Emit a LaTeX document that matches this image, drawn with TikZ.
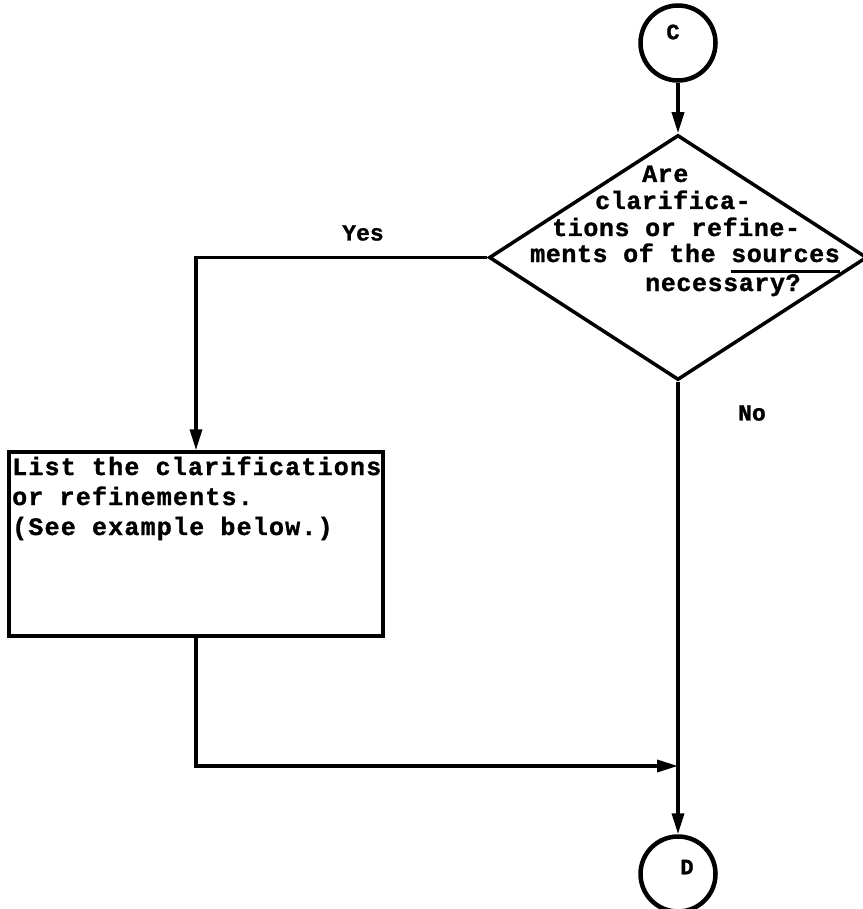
\documentclass[tikz,border=0pt]{standalone}
\usepackage{fontspec}
\usetikzlibrary{shapes.geometric,arrows.meta}
% typewriter faces: heavy, slightly letter-spaced mono
\newfontfamily\twdia[LetterSpace=2.4, BoldFeatures={FakeBold=1.2}]{Liberation Mono}
\newfontfamily\twbox[LetterSpace=4.8, BoldFeatures={FakeBold=1.2}]{Liberation Mono}
\newfontfamily\twlab[BoldFeatures={FakeBold=1.2}]{Liberation Mono}
% heavy typewriter underline
\newcommand\typeul[1]{\setbox0\hbox{#1}\rlap{\rule[-10.5pt]{\wd0}{2.2pt}}\box0}

\begin{document}
\begin{tikzpicture}[x=1pt,y=-1pt,
  connector/.style={draw, circle, line width=4.5pt, minimum size=75pt, inner sep=0pt},
  decision/.style={draw, diamond, line width=3.5pt, minimum width=378pt, minimum height=245pt, inner sep=0pt},
  process/.style={draw, rectangle, line width=3.5pt, minimum width=374pt, minimum height=184pt, inner sep=0pt},
  flow/.style={line width=3.5pt, -{Triangle[length=21pt,width=12pt]}},
  dialine/.style={anchor=base west, inner sep=0pt, font=\twdia\bfseries\fontsize{25pt}{27pt}\selectfont},
  boxline/.style={anchor=base west, inner sep=0pt, font=\twbox\bfseries\fontsize{25pt}{30pt}\selectfont},
  branch/.style={inner sep=0pt, font=\twlab\bfseries\fontsize{23pt}{26pt}\selectfont},
  letter/.style={font=\twlab\bfseries\fontsize{22pt}{24pt}\selectfont}
]
\useasboundingbox (0,0) rectangle (862,909);

% off-page connectors
\node[connector, label={[letter, xshift=-5pt, yshift=11pt]center:C}] (C) at (678,43) {};
\node[connector, label={[letter, xshift=9pt, yshift=7pt]center:D}] (D) at (678,874) {};

% decision
\node[decision] (dec) at (678,257.5) {};
\node[dialine] (q1) at (642,182) {Are};
\node[dialine] (q2) at (595,209) {clarifica-};
\node[dialine] (q3) at (552,236) {tions or refine-};
\node[dialine] (q4) at (530,262) {ments of the \typeul{sources}};
\node[dialine] (q5) at (645,291) {necessary?};

% process box
\node[process] (list) at (196,544) {};
\node[boxline] (t1) at (12,475) {List the clarifications};
\node[boxline] (t2) at (12,505) {or refinements.};
\node[boxline] (t3) at (12,535) {(See example below.)};

% branch labels
\node[branch] (yes) at (363,233) {Yes};
\node[branch] (no) at (752,413) {No};

% junction on the main line
\coordinate (join) at (678,766);

% connectors
\draw[flow] (C) -- (dec.north);
\draw[flow] (dec.west) -| (list.north);
\draw[flow] (dec.south) -- (D.north);
\draw[flow] (list.south) |- (join);
\end{tikzpicture}
\end{document}
